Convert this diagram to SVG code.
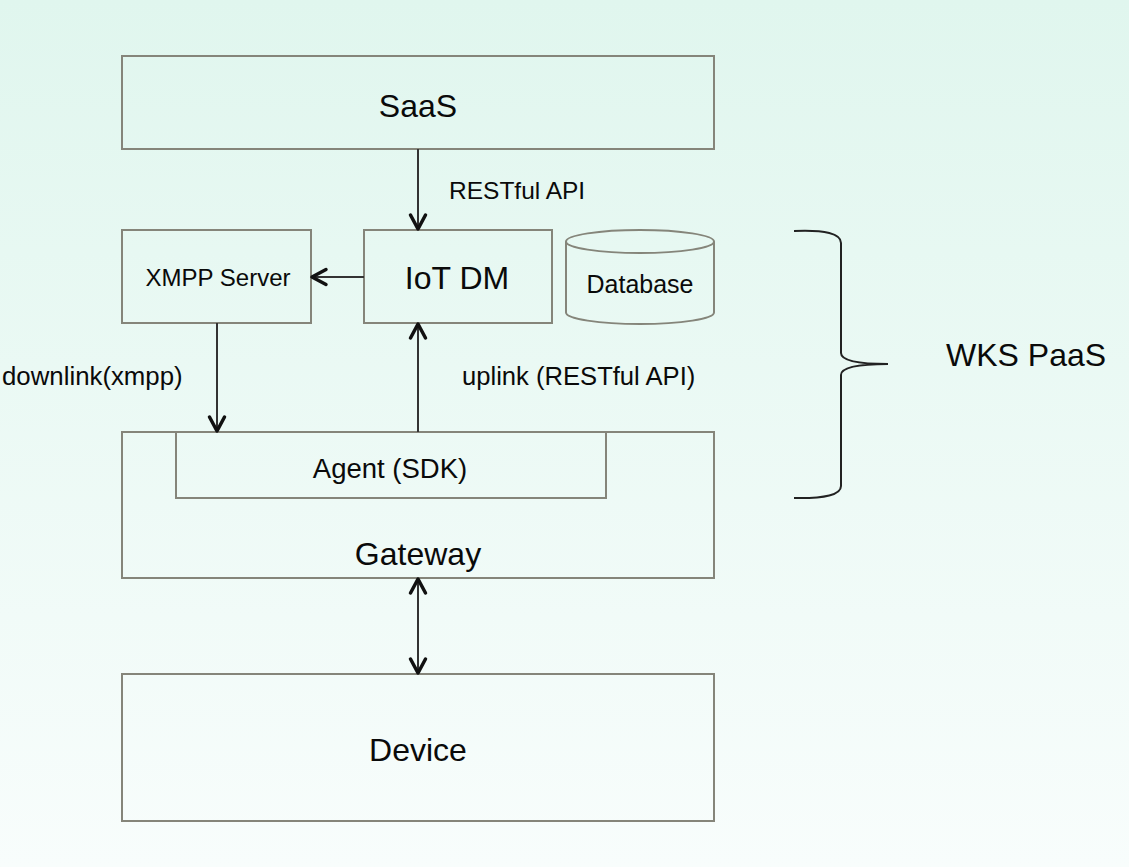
<svg xmlns="http://www.w3.org/2000/svg" width="1129" height="867" viewBox="0 0 1129 867">
  <defs>
    <linearGradient id="bg" x1="0" y1="0" x2="0" y2="1">
      <stop offset="0" stop-color="#e0f6ee"/>
      <stop offset="1" stop-color="#f8fdfc"/>
    </linearGradient>
    <marker id="arrow" viewBox="0 0 20 20" refX="17" refY="10" markerWidth="20" markerHeight="20" markerUnits="userSpaceOnUse" orient="auto-start-reverse">
      <path d="M3,2.5 L17,10 L3,17.5" fill="none" stroke="#111" stroke-width="3.5" stroke-linecap="round" stroke-linejoin="round"/>
    </marker>
    <style>
      .box { fill: none; stroke: #85857a; stroke-width: 2; }
      .lbl { font-family: "Liberation Sans", Arial, sans-serif; fill: #0a0a0a; }
      .conn { stroke: #333; stroke-width: 2; fill: none; }
    </style>
  </defs>
  <rect x="0" y="0" width="1129" height="867" fill="url(#bg)"/>

  <g id="saas">
    <rect class="box" x="122" y="56" width="592" height="93"/>
    <text class="lbl" x="418" y="117" font-size="32" text-anchor="middle">SaaS</text>
  </g>
  <g id="xmpp-server">
    <rect class="box" x="122" y="230" width="189" height="93"/>
    <text class="lbl" x="218" y="286" font-size="24" text-anchor="middle">XMPP Server</text>
  </g>
  <g id="iot-dm">
    <rect class="box" x="364" y="230" width="188" height="93"/>
    <text class="lbl" x="457" y="289" font-size="32" text-anchor="middle">IoT DM</text>
  </g>
  <g id="database">
    <path class="box" d="M566,241.5 L566,312.5 A74,11.5 0 0 0 714,312.5 L714,241.5"/>
    <ellipse class="box" cx="640" cy="241.5" rx="74" ry="11.5"/>
    <text class="lbl" x="640" y="293" font-size="25" text-anchor="middle">Database</text>
  </g>
  <g id="gateway">
    <rect class="box" x="122" y="432" width="592" height="146"/>
    <text class="lbl" x="418" y="565" font-size="32" text-anchor="middle">Gateway</text>
  </g>
  <g id="agent">
    <rect class="box" x="176" y="432" width="430" height="66"/>
    <text class="lbl" x="390" y="478" font-size="27.5" text-anchor="middle">Agent (SDK)</text>
  </g>
  <g id="device">
    <rect class="box" x="122" y="674" width="592" height="147"/>
    <text class="lbl" x="418" y="761" font-size="32" text-anchor="middle">Device</text>
  </g>
  <g id="wks-paas">
    <path d="M794,231 Q841,229 841,243 L841,353 Q841,364 888,364 Q841,364 841,375 L841,486 Q841,499 794,498" fill="none" stroke="#222" stroke-width="2"/>
    <text class="lbl" x="946" y="366" font-size="32">WKS PaaS</text>
  </g>

  <g id="connectors">
    <line class="conn" x1="418" y1="149" x2="418" y2="229" marker-end="url(#arrow)"/>
    <line class="conn" x1="364" y1="277" x2="312" y2="277" marker-end="url(#arrow)"/>
    <line class="conn" x1="217" y1="323" x2="217" y2="431" marker-end="url(#arrow)"/>
    <line class="conn" x1="418" y1="432" x2="418" y2="324" marker-end="url(#arrow)"/>
    <line class="conn" x1="418" y1="579" x2="418" y2="673" marker-start="url(#arrow)" marker-end="url(#arrow)"/>
    <text class="lbl" x="449" y="199" font-size="24.5">RESTful API</text>
    <text class="lbl" x="2" y="385" font-size="25.8">downlink(xmpp)</text>
    <text class="lbl" x="462" y="385" font-size="25.6">uplink (RESTful API)</text>
  </g>
</svg>
